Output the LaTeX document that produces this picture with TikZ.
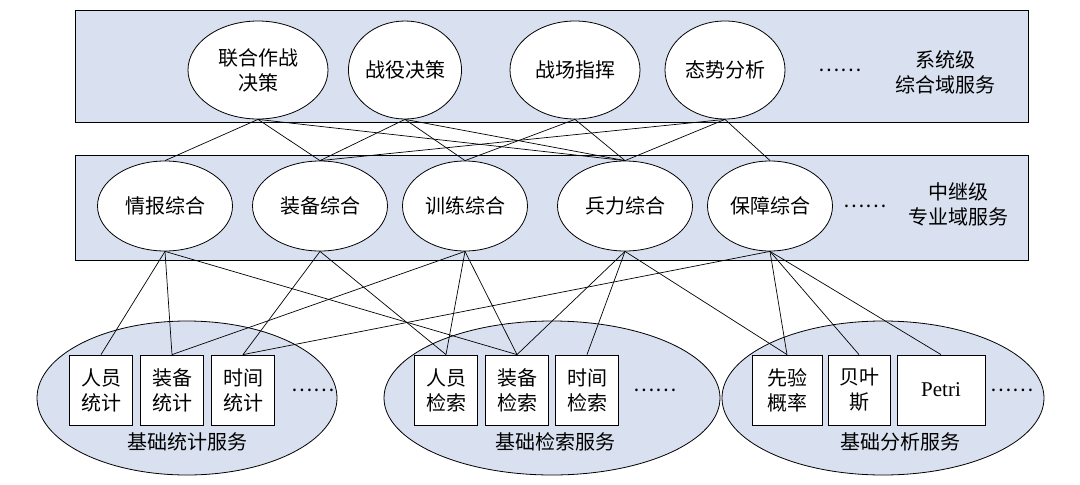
\documentclass[tikz,border=0pt]{standalone}
\usepackage{fontspec}
\setmainfont{Liberation Serif}
\newfontfamily\cjk{Noto Sans CJK SC}
\usetikzlibrary{shapes.geometric}
\definecolor{band}{HTML}{D9E1F0}
\begin{document}
\begin{tikzpicture}[x=1pt,y=-1pt,
  ell/.style={draw,ellipse,fill=white,inner sep=0pt,align=center,font=\cjk\fontsize{20}{25}\selectfont,line width=0.8pt},
  bx/.style={draw,fill=white,minimum width=63pt,minimum height=70pt,inner sep=0pt,align=center,font=\cjk\fontsize{20}{25}\selectfont,line width=0.8pt},
  lab/.style={align=center,font=\cjk\fontsize{20}{25}\selectfont},
  ln/.style={line width=0.7pt}]
\useasboundingbox (0,0) rectangle (1080,485);
\draw[fill=band,line width=0.8pt] (75,10) rectangle (1028,122);
\draw[fill=band,line width=0.8pt] (75,155) rectangle (1028,260);
\draw[fill=band,line width=0.8pt] (187,398) ellipse (150 and 77);
\draw[fill=band,line width=0.8pt] (552,398) ellipse (168 and 77);
\draw[fill=band,line width=0.8pt] (883,398) ellipse (161 and 77);
% top
\node[ell,minimum width=140,minimum height=98] (A) at (258,70) {联合作战\\决策};
\node[ell,minimum width=112,minimum height=98] (B) at (405,70) {战役决策};
\node[ell,minimum width=130,minimum height=98] (C) at (575,70) {战场指挥};
\node[ell,minimum width=120,minimum height=98] (D) at (725,70) {态势分析};
\node[lab] (tdots) at (840,70) {……};
\node[lab] (tl) at (945,72) {系统级\\综合域服务};
% middle
\node[ell,minimum width=135,minimum height=90] (m1) at (165,206) {情报综合};
\node[ell,minimum width=135,minimum height=90] (m2) at (320,206) {装备综合};
\node[ell,minimum width=125,minimum height=90] (m3) at (465,206) {训练综合};
\node[ell,minimum width=135,minimum height=90] (m4) at (625,206) {兵力综合};
\node[ell,minimum width=125,minimum height=90] (m5) at (770,206) {保障综合};
\node[lab] (mdots) at (865,206) {……};
\node[lab] (ml) at (958,204) {中继级\\专业域服务};
% bottom
\node[bx] (b1) at (101,390) {人员\\统计};
\node[bx] (b2) at (172,390) {装备\\统计};
\node[bx] (b3) at (243,390) {时间\\统计};
\node[lab] (bd1) at (313,390) {……};
\node[lab] (bl1) at (187,442) {基础统计服务};
\node[bx] (c1) at (446,390) {人员\\检索};
\node[bx] (c2) at (517,390) {装备\\检索};
\node[bx] (c3) at (587,390) {时间\\检索};
\node[lab] (bd2) at (655,390) {……};
\node[lab] (bl2) at (555,442) {基础检索服务};
\node[bx,minimum width=70] (d1) at (787,390) {先验\\概率};
\node[bx,minimum width=62] (d2) at (859,390) {贝叶\\斯};
\node[bx,minimum width=88,font=\fontsize{21}{25}\selectfont] (d3) at (941,390) {Petri};
\node[lab] (bd3) at (1012,390) {……};
\node[lab] (bl3) at (900,442) {基础分析服务};
% connectors top-middle
\foreach \s/\t in {A/m1,A/m2,A/m4,B/m2,B/m3,B/m4,C/m3,C/m4,D/m2,D/m4,D/m5}
  \draw[ln] (\s.south) -- (\t.north);
% connectors middle-bottom
\foreach \s/\t in {m1/b1,m1/b2,m1/c2,m2/b3,m2/c1,m3/b2,m3/c1,m3/c2,m4/c2,m4/c3,m4/d1,m5/b3,m5/d1,m5/d2,m5/d3}
  \draw[ln] (\s.south) -- (\t.north);
\end{tikzpicture}
\end{document}
